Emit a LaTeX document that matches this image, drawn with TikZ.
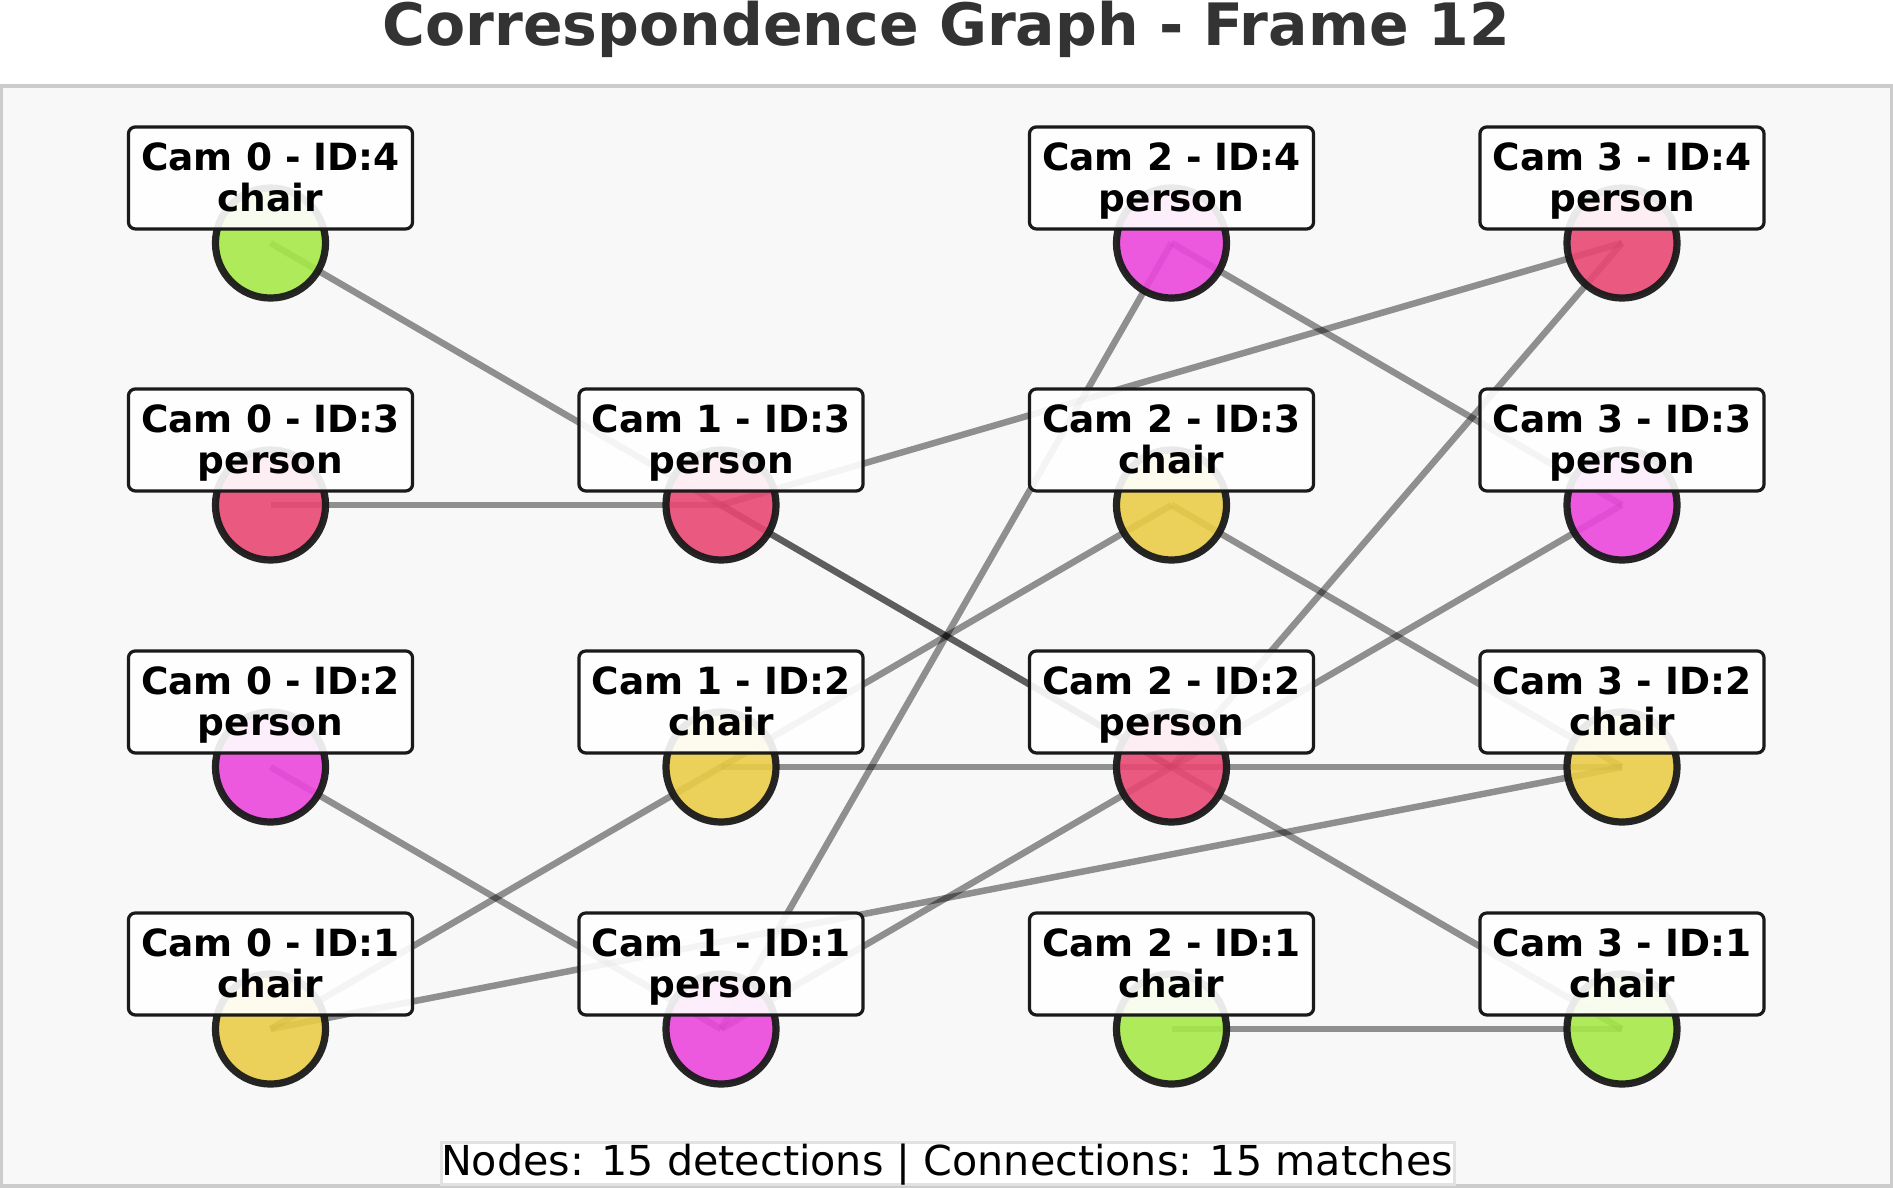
\documentclass[tikz,border=0pt]{standalone}
\usepackage{fontspec}
\setmainfont{DejaVu Sans}
\definecolor{cgreen}{HTML}{A6E948}
\definecolor{cred}{HTML}{E84873}
\definecolor{cmag}{HTML}{EB48DD}
\definecolor{cyel}{HTML}{EACC48}
\definecolor{nodeborder}{HTML}{1A1A1A}
\definecolor{titlegray}{HTML}{333333}
\definecolor{plotbg}{HTML}{F8F8F8}
\definecolor{frameline}{HTML}{CCCCCC}
\definecolor{statline}{HTML}{E2E2E2}
\pgfdeclarelayer{bglayer}
\pgfdeclarelayer{edgelayer}
\pgfsetlayers{bglayer,edgelayer,main}
\newcommand\detnode[4]{%
  \node[det, fill=#3] (c#1i#2) at ({270.5+450.5*#1},{243+262*(4-#2)}) {};
  \node[lbl] (l#1i#2) at ([yshift=0.65cm]c#1i#2.center)
    {\rule{0pt}{0.34cm}Cam #1 - ID:#2\\#4\rule[-0.08cm]{0pt}{0.08cm}};
}
\begin{document}
\begin{tikzpicture}[x=0.01cm, y=-0.01cm,
  det/.style={circle, minimum size=1.1cm, inner sep=0pt, line width=0.072cm,
    draw=nodeborder, draw opacity=0.95, fill opacity=0.9},
  lbl/.style={rectangle, rounded corners=0.07cm, draw=nodeborder, line width=0.032cm,
    fill=white, fill opacity=0.9, text opacity=1, minimum width=2.84cm,
    minimum height=1.02cm, inner sep=0pt, align=center,
    font=\fontsize{10.65pt}{11.67pt}\selectfont\bfseries},
  match/.style={line width=0.065cm, draw=black, draw opacity=0.42}]
\useasboundingbox (0,0) rectangle (1893,1187);
\begin{pgfonlayer}{bglayer}
  \fill[white] (0,0) rectangle (1893,1187);
  \draw[fill=plotbg, draw=frameline, line width=0.04cm] (1,86) rectangle (1892,1186);
  \draw[fill=white, draw=statline, line width=0.03cm] (441,1142) rectangle (1454,1184);
\end{pgfonlayer}
\node[anchor=base, text=titlegray, inner sep=0pt,
  font=\fontsize{16.62pt}{19pt}\selectfont\bfseries] (title) at (946.5,45)
  {Correspondence Graph - Frame 12};
\node[anchor=base, inner sep=0pt, font=\fontsize{11.73pt}{14pt}\selectfont] (stats)
  at (947,1175) {Nodes: 15 detections | Connections: 15 matches};
% detections
\detnode{0}{4}{cgreen}{chair}
\detnode{0}{3}{cred}{person}
\detnode{0}{2}{cmag}{person}
\detnode{0}{1}{cyel}{chair}
\detnode{1}{3}{cred}{person}
\detnode{1}{2}{cyel}{chair}
\detnode{1}{1}{cmag}{person}
\detnode{2}{4}{cmag}{person}
\detnode{2}{3}{cyel}{chair}
\detnode{2}{2}{cred}{person}
\detnode{2}{1}{cgreen}{chair}
\detnode{3}{4}{cred}{person}
\detnode{3}{3}{cmag}{person}
\detnode{3}{2}{cyel}{chair}
\detnode{3}{1}{cgreen}{chair}
% matches
\begin{pgfonlayer}{edgelayer}
  \draw[match] (c0i4.center) -- (c2i2.center);
  \draw[match, draw opacity=0.35] (c1i3.center) -- (c2i2.center);
  \draw[match] (c0i3.center) -- (c1i3.center);
  \draw[match] (c1i3.center) -- (c3i4.center);
  \draw[match] (c2i4.center) -- (c3i3.center);
  \draw[match] (c2i4.center) -- (c1i1.center);
  \draw[match] (c3i4.center) -- (c2i2.center);
  \draw[match] (c2i3.center) -- (c0i1.center);
  \draw[match] (c2i3.center) -- (c3i2.center);
  \draw[match] (c3i3.center) -- (c2i2.center);
  \draw[match] (c1i2.center) -- (c3i2.center);
  \draw[match] (c0i2.center) -- (c1i1.center);
  \draw[match] (c0i1.center) -- (c3i2.center);
  \draw[match] (c1i1.center) -- (c2i2.center);
  \draw[match] (c2i2.center) -- (c3i1.center);
  \draw[match] (c2i1.center) -- (c3i1.center);
\end{pgfonlayer}
\end{tikzpicture}
\end{document}
